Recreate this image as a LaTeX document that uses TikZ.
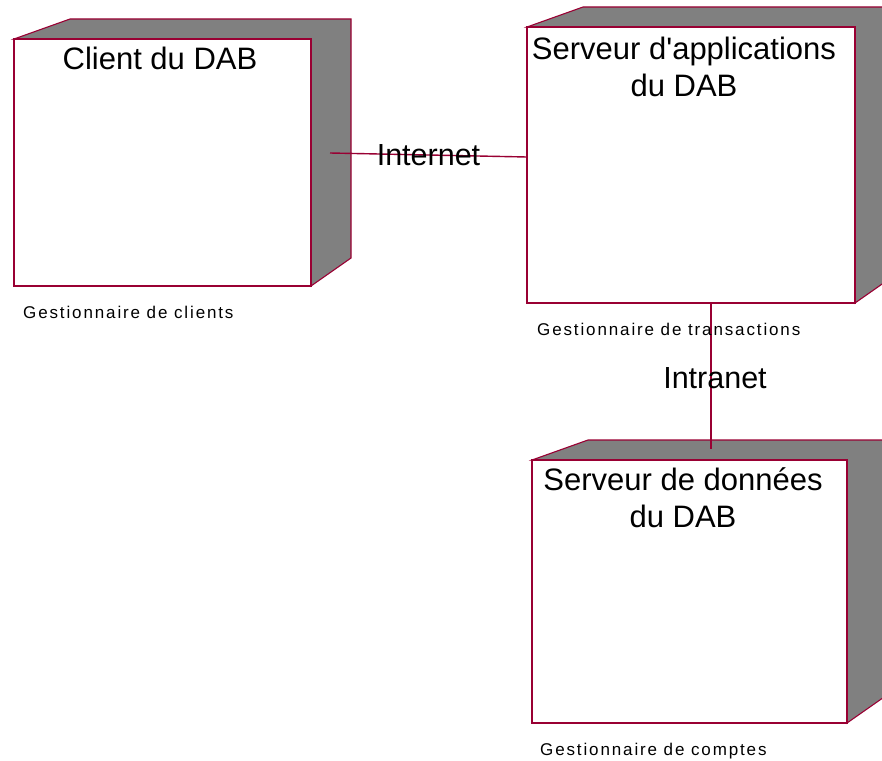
\documentclass[tikz,border=0pt]{standalone}
\usepackage{fontspec}
\setmainfont{Liberation Sans}
\newfontfamily\smallfont[LetterSpace=11]{Liberation Sans}
\usetikzlibrary{calc}
\definecolor{edge}{RGB}{153,0,51}
\definecolor{side}{RGB}{128,128,128}
\tikzset{
  frontface/.style={draw=edge, line width=1.3pt, fill=white, rectangle, inner sep=0pt, outer sep=0pt},
  shadowface/.style={fill=side, draw=edge, line width=1.1pt, line join=miter},
  rightedge/.style={draw=edge, line width=2.4pt},
  titletext/.style={font=\fontsize{31}{37}\selectfont, align=center, inner sep=0pt, anchor=north},
  captiontext/.style={font=\smallfont\fontsize{17}{20}\selectfont, inner sep=0pt, anchor=base west},
  linklabel/.style={font=\fontsize{30.5}{36}\selectfont, inner sep=0pt, anchor=base},
  link/.style={draw=edge, line width=1.4pt}
}
% side and top faces of a node box, drawn from its front face
\newcommand{\boxdepth}[1]{%
  \path[shadowface] (#1.north west) -- ++(56,-20) -- ($(#1.north east)+(40,-20)$)
    -- ($(#1.south east)+(40,-28)$) -- (#1.south east) -- (#1.north east) -- cycle;%
}
\begin{document}
\begin{tikzpicture}[x=1pt,y=-1pt]
\useasboundingbox (0,0) rectangle (882,760);
\clip (0,0) rectangle (882,760);

% front faces
\node[frontface, minimum width=297pt, minimum height=247pt] (client) at (162.5,162.5) {};
\node[frontface, minimum width=328pt, minimum height=276pt] (appsrv) at (691,165) {};
\node[frontface, minimum width=315pt, minimum height=263pt] (datasrv) at (689.5,591.5) {};

% depth of each box
\boxdepth{client}
\boxdepth{appsrv}
\boxdepth{datasrv}

% redraw the front faces over the depth
\foreach \b in {client,appsrv,datasrv}{
  \draw[draw=edge, line width=1.3pt, fill=white] (\b.north west) rectangle (\b.south east);
  \draw[rightedge] (\b.north east) -- (\b.south east);
}

% connectors
\coordinate (netL) at (330,153);
\coordinate (netR) at ($(appsrv.north west)+(0,130)$);
\draw[link] (netL) -- (netR);
\coordinate (intraT) at ($(appsrv.south)+(20,0)$);
\coordinate (intraB) at (711,449);
\draw[link] (intraT) -- (intraB);

% connector labels
\node[linklabel] (lblnet) at (428.5,165) {Internet};
\node[linklabel] (lblintra) at (715,388) {Intranet};

% titles
\node[titletext] (tclient) at (160,47) {Client du DAB};
\node[titletext] (tapp) at (684,37) {Serveur d\textquotesingle applications\\du DAB};
\node[titletext] (tdata) at (683,467) {Serveur de données\\du DAB};

% captions under the boxes
\node[captiontext] (cclient) at (23,318) {Gestionnaire de clients};
\node[captiontext] (capp) at (537,335) {Gestionnaire de transactions};
\node[captiontext] (cdata) at (540,755) {Gestionnaire de comptes};
\end{tikzpicture}
\end{document}
